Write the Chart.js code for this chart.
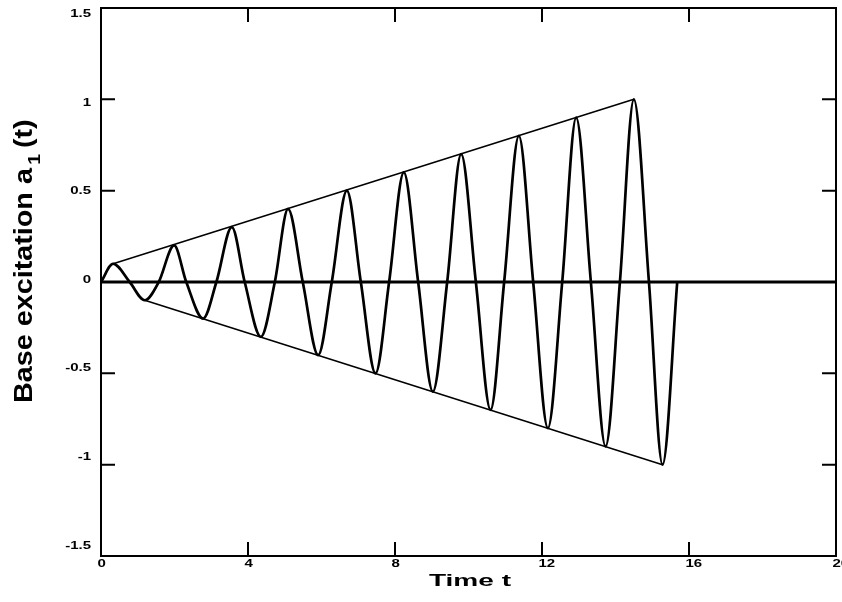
<!DOCTYPE html>
<html lang="en">

<head>
  <meta charset="UTF-8">
  <title>Base excitation</title>
  <style>
    html,
    body {
      margin: 0;
      padding: 0;
      background: #fff;
    }

    #myChart {
      display: block;
    }
  </style>
</head>

<body>
  <canvas id="myChart" width="842" height="602"></canvas>
  <script src="https://cdn.jsdelivr.net/npm/chart.js@4.4.0/dist/chart.umd.min.js"></script>
  <script>
    // excitation a1(t): peaks, troughs and zero crossings of the ramped sine
    const times = [
      0, 0.33, 0.78, 1.19, 1.57, 1.99, 2.32, 2.78, 3.14, 3.56,
      3.91, 4.35, 4.73, 5.09, 5.49, 5.91, 6.28, 6.69, 7.07, 7.47,
      7.84, 8.24, 8.63, 9.03, 9.42, 9.80, 10.20, 10.60, 10.97, 11.37,
      11.76, 12.16, 12.55, 12.93, 13.33, 13.73, 14.12, 14.50, 14.91, 15.28,
      15.68
    ]
    const excitation = [
      0, 0.1, 0, -0.1, 0, 0.2, 0, -0.2, 0, 0.3,
      0, -0.3, 0, 0.4, 0, -0.4, 0, 0.5, 0, -0.5,
      0, 0.6, 0, -0.6, 0, 0.7, 0, -0.7, 0, 0.8,
      0, -0.8, 0, 0.9, 0, -0.9, 0, 1.0, 0, -1.0,
      0
    ]

    // envelope lines through the first and last peaks / troughs
    const upperTimes = [0.33, 14.50]
    const upperValues = [0.1, 1.0]
    const lowerTimes = [1.19, 15.28]
    const lowerValues = [-0.1, -1.0]

    // zero reference line
    const baseTimes = [0, 20]
    const baseValues = [0, 0]

    const xTicks = [0, 4, 8, 12, 16, 20]
    const xLabels = ['0', '4', '8', '12', '16', '20']
    const yTicks = [-1.5, -1, -0.5, 0, 0.5, 1, 1.5]
    const yLabels = ['-1.5', '-1', '-0.5', '0', '0.5', '1', '1.5']

    const xTitle = 'Time t'
    const yTitle = 'Base excitation a'
    const yTitleSub = '1'
    const yTitleEnd = '(t)'

    const FONT = '"Liberation Sans", Arial, Helvetica, sans-serif'

    function toPoints(xs, ys) {
      return xs.map((x, i) => ({ x: x, y: ys[i] }))
    }

    // frame, inward ticks, labels and titles in the old plotting style
    const frameAndText = {
      id: 'frameAndText',
      afterDraw(chart) {
        const ctx = chart.ctx
        const area = chart.chartArea
        const xs = chart.scales.x
        const ys = chart.scales.y
        const tick = 14

        ctx.save()
        ctx.strokeStyle = '#000'
        ctx.fillStyle = '#000'
        ctx.lineWidth = 2
        ctx.strokeRect(area.left, area.top, area.right - area.left, area.bottom - area.top)

        ctx.beginPath()
        xTicks.forEach(v => {
          const px = xs.getPixelForValue(v)
          ctx.moveTo(px, area.bottom)
          ctx.lineTo(px, area.bottom - tick)
          ctx.moveTo(px, area.top)
          ctx.lineTo(px, area.top + tick)
        })
        yTicks.forEach(v => {
          const py = ys.getPixelForValue(v)
          ctx.moveTo(area.left, py)
          ctx.lineTo(area.left + tick, py)
          ctx.moveTo(area.right, py)
          ctx.lineTo(area.right - tick, py)
        })
        ctx.stroke()

        // tick labels, wide bold digits
        ctx.font = 'bold 10px ' + FONT
        ctx.textBaseline = 'middle'
        const mid = (area.top + area.bottom) / 2
        yTicks.forEach((v, i) => {
          const py = ys.getPixelForValue(v)
          const ly = py + (mid - py) * 0.03 - 2
          ctx.save()
          ctx.translate(area.left - 10, ly)
          ctx.scale(1.5, 1)
          ctx.textAlign = 'right'
          ctx.fillText(yLabels[i], 0, 0)
          ctx.restore()
        })
        xTicks.forEach((v, i) => {
          const px = xs.getPixelForValue(v)
          ctx.save()
          ctx.translate(px - 3.5, area.bottom + 8)
          ctx.scale(1.5, 1)
          ctx.textAlign = 'left'
          ctx.fillText(xLabels[i], 0, 0)
          ctx.restore()
        })

        // x axis title
        ctx.textBaseline = 'alphabetic'
        ctx.font = 'bold 17px ' + FONT
        ctx.save()
        ctx.translate(470, 586)
        ctx.scale(1.65, 1)
        ctx.textAlign = 'center'
        ctx.fillText(xTitle, 0, 0)
        ctx.restore()

        // y axis title with subscript
        ctx.save()
        ctx.translate(32, 403)
        ctx.rotate(-Math.PI / 2)
        ctx.scale(1.15, 1)
        ctx.textAlign = 'left'
        ctx.font = 'bold 25px ' + FONT
        const w = ctx.measureText(yTitle).width
        ctx.fillText(yTitle, 0, 0)
        ctx.font = 'bold 17px ' + FONT
        const ws = ctx.measureText(yTitleSub).width
        ctx.fillText(yTitleSub, w + 3, 8)
        ctx.font = 'bold 25px ' + FONT
        ctx.fillText(yTitleEnd, w + ws + 8, 0)
        ctx.restore()

        ctx.restore()
      }
    }

    function drawChart() {
      const context = document.querySelector('#myChart').getContext('2d')
      new Chart(context, {
        type: 'scatter',
        data: {
          datasets: [
            {
              label: 'a1(t)',
              data: toPoints(times, excitation),
              showLine: true,
              borderColor: '#000',
              borderWidth: 2.7,
              cubicInterpolationMode: 'monotone',
              pointRadius: 0
            },
            {
              label: 'upper envelope',
              data: toPoints(upperTimes, upperValues),
              showLine: true,
              borderColor: '#000',
              borderWidth: 1.6,
              pointRadius: 0
            },
            {
              label: 'lower envelope',
              data: toPoints(lowerTimes, lowerValues),
              showLine: true,
              borderColor: '#000',
              borderWidth: 1.6,
              pointRadius: 0
            },
            {
              label: 'zero',
              data: toPoints(baseTimes, baseValues),
              showLine: true,
              borderColor: '#000',
              borderWidth: 3,
              pointRadius: 0
            }
          ]
        },
        options: {
          responsive: false,
          animation: false,
          events: [],
          layout: {
            padding: { left: 101, top: 8, right: 6, bottom: 46 }
          },
          plugins: {
            legend: { display: false },
            tooltip: { enabled: false }
          },
          scales: {
            x: {
              type: 'linear',
              display: false,
              min: 0,
              max: 20
            },
            y: {
              type: 'linear',
              display: false,
              min: -1.5,
              max: 1.5
            }
          }
        },
        plugins: [frameAndText]
      })
    }

    window.onload = () => {
      drawChart()
    }
  </script>
</body>

</html>
